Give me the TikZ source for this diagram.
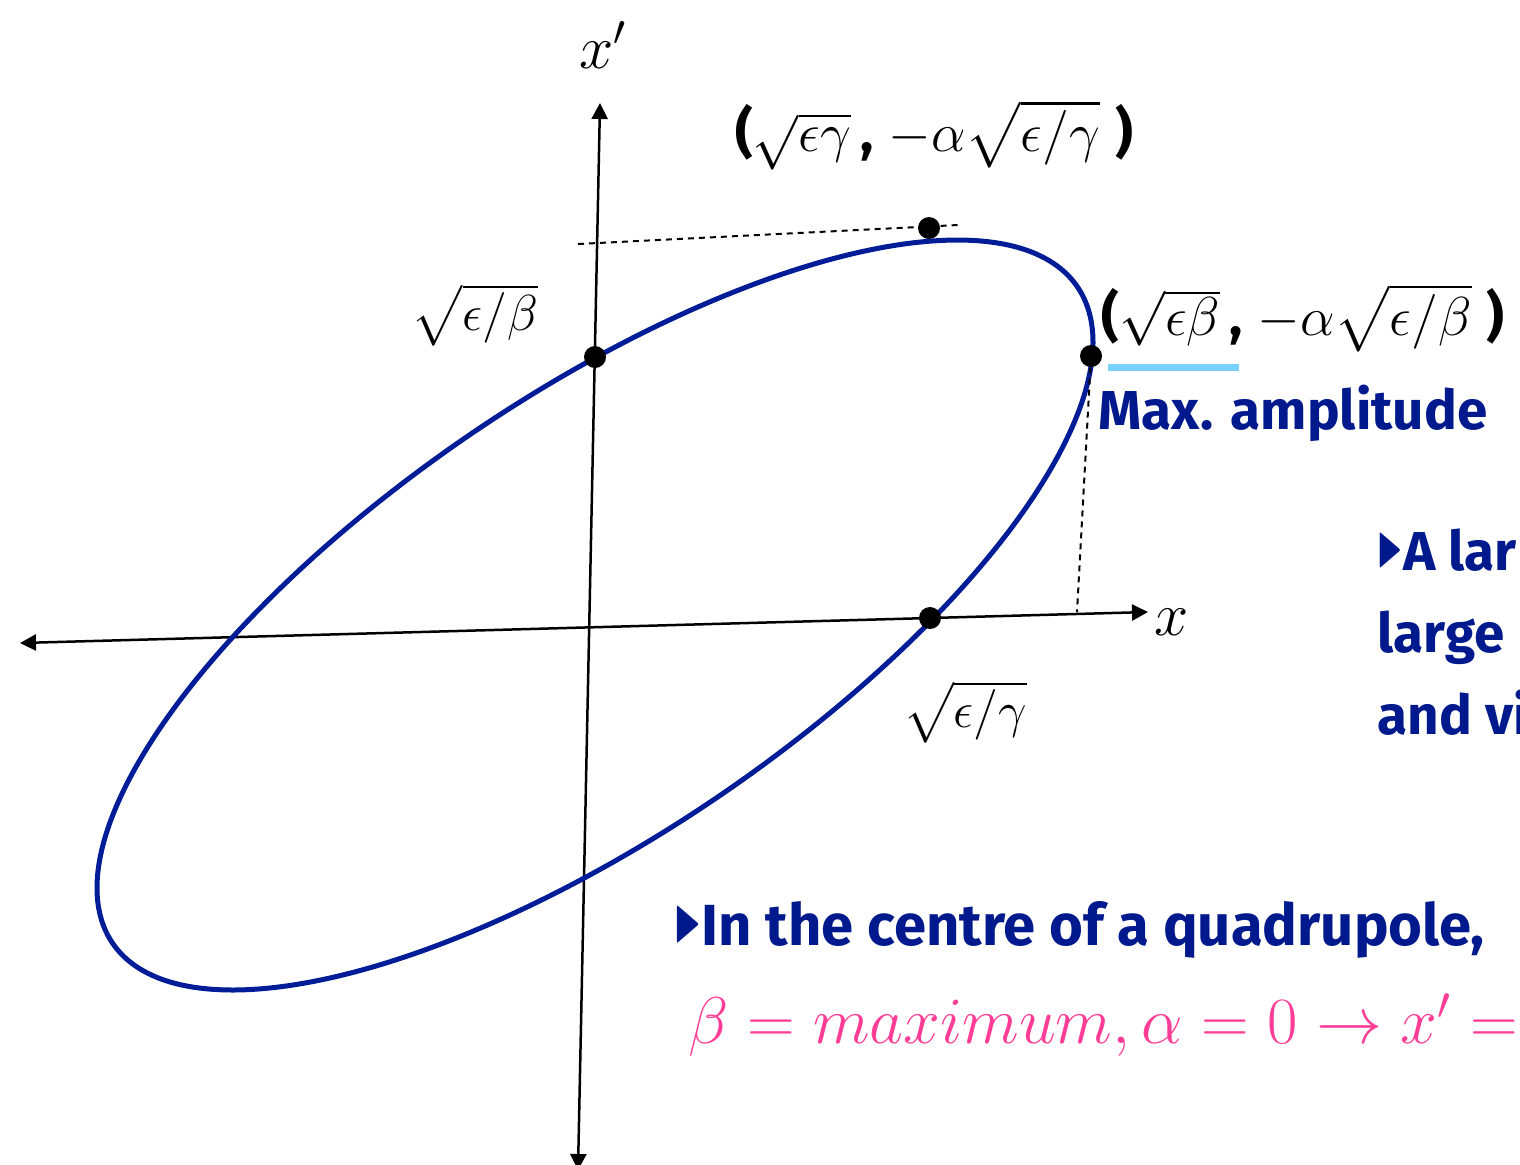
\RequirePackage{fix-cm}
\documentclass[tikz,border=0pt]{standalone}
\usepackage{amsmath,amssymb}
\usepackage{fontspec}
\newfontfamily\comicfont{Fira Sans}
\usepackage{tikz}
\usetikzlibrary{arrows.meta,positioning,calc}
\usepackage{xcolor}
\definecolor{ink}{RGB}{0,0,0}
\definecolor{beam}{RGB}{0,28,150}
\definecolor{note}{RGB}{0,25,140}
\definecolor{hot}{RGB}{255,60,150}
\definecolor{sky}{RGB}{120,210,255}
\tikzset{
  axis/.style={{Triangle[length=1.6mm,width=1.6mm]}-{Triangle[length=1.6mm,width=1.6mm]},line width=0.25mm,ink},
  orbit/.style={line width=0.5mm,beam},
  guide/.style={line width=0.2mm,dash pattern=on 0.6mm off 0.5mm,ink},
  dot/.style={circle,fill=ink,minimum size=2.2mm,inner sep=0pt},
  lab/.style={inner sep=0pt,font=\fontsize{14.4}{17}\selectfont},
  pairlab/.style={inner sep=0pt,font=\fontsize{15.6}{18}\selectfont},
  axlab/.style={inner sep=0pt,font=\fontsize{17.5}{20}\selectfont},
  txt/.style={inner sep=0pt,text=note,font=\comicfont\bfseries\fontsize{15.6}{23.3}\selectfont},
  bigtxt/.style={txt,font=\comicfont\bfseries\fontsize{16.5}{23.3}\selectfont},
  hotmath/.style={inner sep=0pt,text=hot,font=\fontsize{18.8}{22}\selectfont},
  mark line/.style={line width=0.7mm,sky},
}
\newcommand{\cpunct}[1]{{\comicfont\bfseries #1}}
\newcommand{\bultri}{\raisebox{0.15ex}{\scalebox{0.6}[1.1]{$\blacktriangleright$}}}

\begin{document}
\begin{tikzpicture}[x=0.1mm,y=-0.1mm]
\useasboundingbox (0,0) rectangle (1520,1164);
% axes
\coordinate (xl) at (20,643);
\coordinate (xr) at (1148,612);
\coordinate (yb) at (578,1170);
\coordinate (yt) at (600,103);
\draw[axis] (xl) -- (xr);
\draw[axis] (yb) -- (yt);
% phase space ellipse
\def\cx{595}\def\cy{615}
\draw[orbit] plot[domain=0:358,samples=180,smooth cycle]
  ({\cx+498*cos(\x)},{\cy-375*cos(\x-43.3)});
\coordinate (g0) at (578,244);
\coordinate (g1) at (958,225);
\draw[guide] (g0) -- (g1);
\foreach \nm/\px/\py in {dxp/595/357,dx/930/618,dmax/1091/356,dtop/929/228}
  \node[dot] (\nm) at (\px,\py) {};
\coordinate (foot) at (1077,612);
\draw[guide] (dmax) -- (foot);
% labels
\node[axlab] (xplab) at (603,45) {$x'$};
\node[axlab] (xlab) at (1172,622) {$x$};
\node[lab] (eb) at (475,315) {$\sqrt{\epsilon/\beta}$};
\node[lab] (eg) at (965,712) {$\sqrt{\epsilon/\gamma}$};
\node[pairlab] (toplab) at (934,135)
  {\cpunct{(}$\sqrt{\epsilon\gamma}\,$\cpunct{,}$\;-\alpha\sqrt{\epsilon/\gamma}\;$\cpunct{)}};
\node[pairlab,anchor=west] (maxlab) at (1101,318)
  {\cpunct{(}$\sqrt{\epsilon\beta}\,$\cpunct{,}$\;-\alpha\sqrt{\epsilon/\beta}\;$\cpunct{)}};
\coordinate (ul0) at (1108,367);
\coordinate (ul1) at (1239,367);
\draw[mark line] (ul0) -- (ul1);
\node[txt,anchor=west] (amp) at (1098,413) {Max. amplitude};
\node[txt,anchor=north west,align=left] (large) at (1377,528) {\bultri A lar\\large\\and vi};
\node[bigtxt,anchor=west] (quad) at (674,930) {\bultri In the centre of a quadrupole,};
\node[hotmath,anchor=west] (cond) at (688,1025) {$\beta = maximum, \alpha = 0 \rightarrow x' =$};
\end{tikzpicture}
\end{document}
